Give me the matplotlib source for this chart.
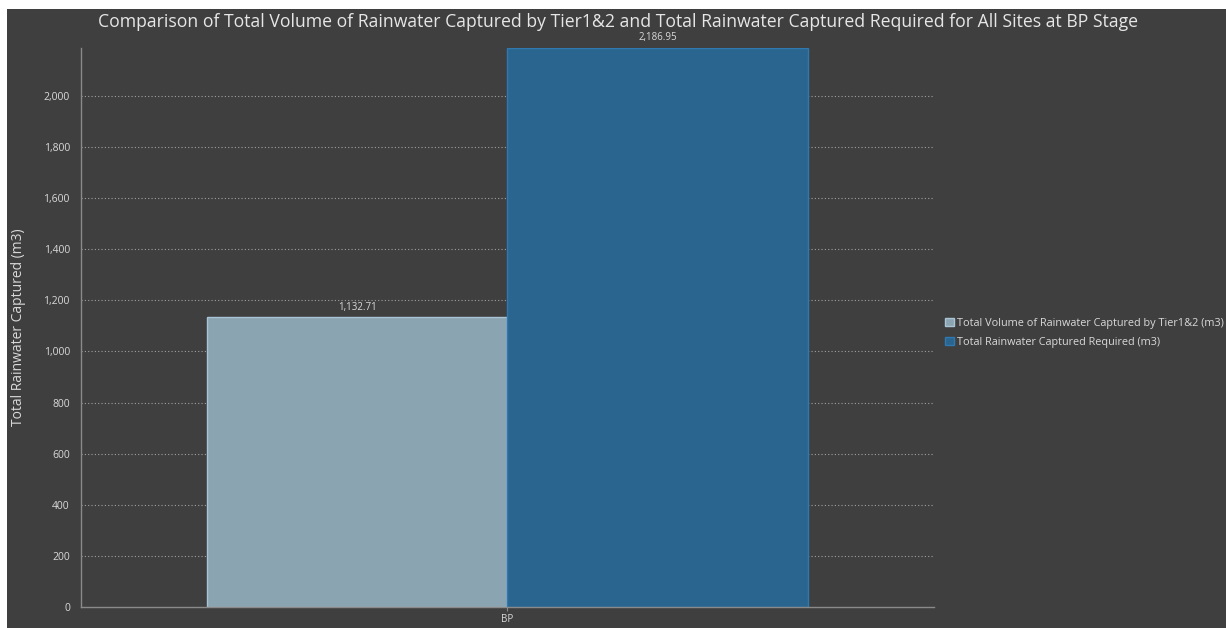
import matplotlib.pyplot as plt
from matplotlib.patches import Rectangle
from matplotlib.ticker import FuncFormatter

categories = ["BP"]
captured_tier12 = [1132.71]
captured_required = [2186.95]
series_names = ["Total Volume of Rainwater Captured by Tier1&2 (m3)",
                "Total Rainwater Captured Required (m3)"]
yticks = [0, 200, 400, 600, 800, 1000, 1200, 1400, 1600, 1800, 2000]

bg = "#3f3f3f"
txt = "#d9d9d9"
colours = ["#8aa4b2", "#29658f"]
edges = ["#a9c4d4", "#2f78b0"]

plt.rcParams["font.family"] = ["Open Sans", "DejaVu Sans"]

W, H = 1226, 628
fig = plt.figure(figsize=(W / 100, H / 100), dpi=100, facecolor="white")
# dark panel, leaving a thin white margin top and left
fig.patches.append(Rectangle((7 / W, 0), 1 - 7 / W, 1 - 9 / H, transform=fig.transFigure,
                             facecolor=bg, edgecolor="none", zorder=-1))

ax = fig.add_axes([81 / W, 1 - 607 / H, (934 - 81) / W, (607 - 48) / H])
ax.set_facecolor(bg)

width = 0.352
x = range(len(categories))
for i, (vals, name) in enumerate([(captured_tier12, series_names[0]),
                                  (captured_required, series_names[1])]):
    pos = [p + (i - 0.5) * width for p in x]
    bars = ax.bar(pos, vals, width=width, color=colours[i], edgecolor=edges[i],
                  linewidth=1, label=name, zorder=2)
    for b, v in zip(bars, vals):
        ax.text(b.get_x() + b.get_width() / 2, v + 18, f"{v:,.2f}", ha="center",
                va="bottom", fontsize=7, color=txt)

ax.set_xlim(-0.5, 0.5)
ax.set_ylim(0, max(captured_required))
ax.set_xticks(list(x))
ax.set_xticklabels(categories)
ax.set_yticks(yticks)
ax.yaxis.set_major_formatter(FuncFormatter(lambda v, p: f"{int(v):,}"))
ax.tick_params(axis="y", length=0, pad=8, labelsize=7.5, labelcolor=txt)
ax.tick_params(axis="x", length=3, width=0.8, color="#8a8a8a", pad=2,
               labelsize=7, labelcolor=txt)

for y in yticks[1:]:
    ax.axhline(y, color="#a0a0a0", linestyle=(0, (1, 2)), linewidth=0.8, zorder=1)

for s in ["top", "right"]:
    ax.spines[s].set_visible(False)
for s in ["left", "bottom"]:
    ax.spines[s].set_color("#8a8a8a")
    ax.spines[s].set_linewidth(1)

ax.set_ylabel("Total Rainwater Captured (m3)", fontsize=10, color=txt)
ax.yaxis.set_label_coords(-0.064, 0.5)
fig.text(618 / W, 1 - 22 / H,
         "Comparison of Total Volume of Rainwater Captured by Tier1&2 and Total Rainwater Captured Required for All Sites at BP Stage",
         ha="center", va="center", fontsize=12.7, color="#e6e6e6")

leg = ax.legend(loc="center left", bbox_to_anchor=(941 / W, 1 - 333 / H),
                bbox_transform=fig.transFigure, frameon=False, fontsize=7.8,
                handlelength=0.8, handleheight=0.8, handletextpad=0.3,
                labelspacing=0.75, borderaxespad=0)
for t in leg.get_texts():
    t.set_color(txt)

fig.savefig("out.png", dpi=100, facecolor=fig.get_facecolor())
